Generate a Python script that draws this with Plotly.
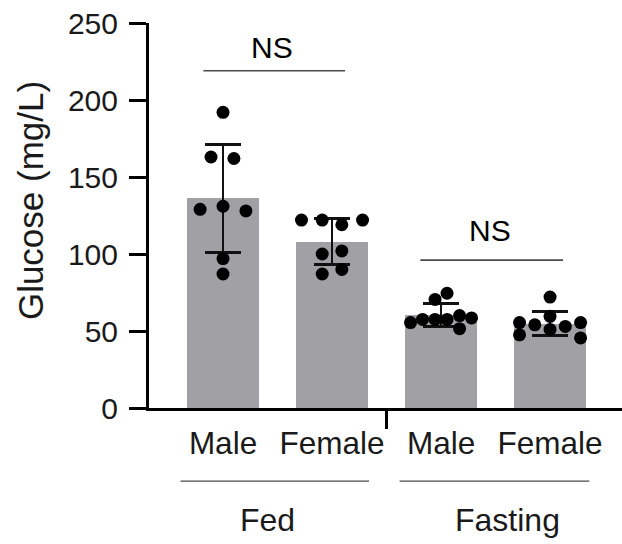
import numpy as np
import plotly.graph_objects as go

# ---- data ----
categories = ["Male", "Female", "Male", "Female"]
groups = ["Fed", "Fasting"]
fed_male = [192, 163, 162, 129, 131, 128, 97, 87]
fed_female = [122, 122, 119, 122, 100, 102, 87, 90]
fast_male = [70.5, 74.5, 55.5, 57.5, 57.5, 57.5, 60, 58.5, 51.5]
fast_female = [72, 59.5, 55.5, 54, 51, 53, 55.5, 47.5, 45.5]
# horizontal jitter of the dots (fraction of category spacing)
jit_fed_male = [0, -0.11, 0.10, -0.21, 0, 0.21, 0, 0]
jit_fed_female = [-0.28, -0.09, 0.09, 0.28, -0.09, 0.09, -0.09, 0.09]
jit_fast_male = [-0.055, 0.055, -0.28, -0.17, -0.055, 0.055, 0.17, 0.28, 0.17]
jit_fast_female = [0, 0, -0.28, -0.14, 0, 0.14, 0.28, -0.28, 0.28]
yticks = [0, 50, 100, 150, 200, 250]
sig_labels = ["NS", "NS"]

series = [fed_male, fed_female, fast_male, fast_female]
jitters = [jit_fed_male, jit_fed_female, jit_fast_male, jit_fast_female]
pos = list(range(len(categories)))
means = [float(np.mean(s)) for s in series]
sds = [float(np.std(s, ddof=1)) for s in series]

FONT = "Liberation Sans, Arial, sans-serif"
TXT = "#1a1a1a"

fig = go.Figure()
fig.add_trace(go.Bar(
    x=pos, y=means, width=0.66,
    marker=dict(color="#a1a1a5", line=dict(width=0)),
    error_y=dict(type="data", array=sds, visible=True, color="#111111",
                 thickness=2.6, width=18),
    showlegend=False,
))
xs, ys = [], []
for p, s, j in zip(pos, series, jitters):
    for v, o in zip(s, j):
        xs.append(p + o)
        ys.append(v)
fig.add_trace(go.Scatter(
    x=xs, y=ys, mode="markers",
    marker=dict(color="#000000", size=13, line=dict(width=0)),
    showlegend=False,
))

# significance brackets
line_col = "#4a4a4a"
fig.add_shape(type="line", x0=-0.18, x1=1.12, y0=219, y1=219, xref="x", yref="y",
              line=dict(color=line_col, width=1.6))
fig.add_shape(type="line", x0=1.81, x1=3.12, y0=96, y1=96, xref="x", yref="y",
              line=dict(color=line_col, width=1.6))
fig.add_annotation(x=0.45, y=234, xref="x", yref="y", text=sig_labels[0], showarrow=False,
                   font=dict(family=FONT, size=30, color="#000"))
fig.add_annotation(x=2.45, y=115, xref="x", yref="y", text=sig_labels[1], showarrow=False,
                   font=dict(family=FONT, size=30, color="#000"))

# group lines and labels below the axis
fig.add_shape(type="line", x0=-0.39, x1=1.34, y0=-0.19, y1=-0.19, xref="x", yref="paper",
              line=dict(color=line_col, width=1.4))
fig.add_shape(type="line", x0=1.62, x1=3.36, y0=-0.19, y1=-0.19, xref="x", yref="paper",
              line=dict(color=line_col, width=1.4))
fig.add_annotation(x=0.41, y=-0.29, xref="x", yref="paper", text=groups[0], showarrow=False,
                   font=dict(family=FONT, size=32, color=TXT), yanchor="middle")
fig.add_annotation(x=2.61, y=-0.29, xref="x", yref="paper", text=groups[1], showarrow=False,
                   font=dict(family=FONT, size=32, color=TXT), yanchor="middle")

# y title
fig.add_annotation(x=-0.2516, y=0.54, xref="paper", yref="paper", text="Glucose (mg/L)",
                   textangle=-90, showarrow=False, xanchor="center", yanchor="middle",
                   font=dict(family=FONT, size=35, color=TXT))

fig.update_layout(
    width=622, height=544,
    margin=dict(l=149, r=0, t=23, b=136),
    plot_bgcolor="white", paper_bgcolor="white",
    bargap=0,
    xaxis=dict(
        range=[-0.679, 3.66], showgrid=False, zeroline=False,
        showline=True, linecolor="#000", linewidth=3,
        tickmode="array", tickvals=pos, ticktext=categories,
        ticks="", ticklabelstandoff=5,
        tickfont=dict(family=FONT, size=31.5, color=TXT),
        minor=dict(tickmode="array", tickvals=[1.5], ticks="outside", ticklen=18,
                   tickwidth=3, tickcolor="#000", showgrid=False),
    ),
    yaxis=dict(
        range=[0, 250], showgrid=False, zeroline=False,
        showline=True, linecolor="#000", linewidth=3,
        tickmode="array", tickvals=yticks,
        ticks="outside", ticklen=17, tickwidth=3, tickcolor="#000",
        ticklabelstandoff=5,
        tickfont=dict(family=FONT, size=30, color=TXT),
    ),
)

fig.write_html("out.html")
